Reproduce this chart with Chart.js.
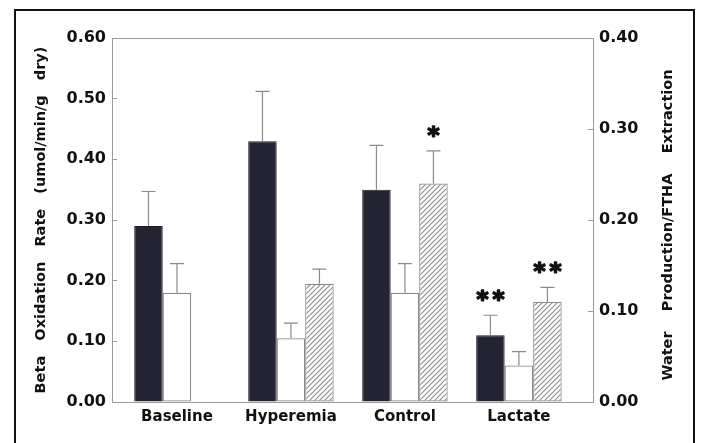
<!DOCTYPE html>
<html><head><meta charset="utf-8">
<script src="https://cdn.jsdelivr.net/npm/chart.js@4"></script>
<style>
html,body{margin:0;padding:0;background:#fff;}
#wrap{position:relative;width:704px;height:443px;overflow:hidden;}
#frame{position:absolute;left:14px;top:9px;width:677px;height:480px;border:2px solid #111;border-bottom:none;pointer-events:none;}
canvas{position:absolute;left:0;top:0;}
</style></head><body>
<div id="wrap"><canvas id="c" width="704" height="443"></canvas><div id="frame"></div></div>
<script>
// ---- data ----
const categories = ['Baseline', 'Hyperemia', 'Control', 'Lactate'];
const betaOxidation = [0.29, 0.43, 0.35, 0.11];
const betaOxidationErr = [0.057, 0.082, 0.073, 0.033];
const secondSeries = [0.18, 0.105, 0.18, 0.06];
const secondSeriesErr = [0.048, 0.025, 0.048, 0.023];
const waterFtha = [null, 0.13, 0.24, 0.11];
const waterFthaErr = [null, 0.016, 0.036, 0.016];
const marksBeta = ['', '', '', '**'];
const marksSecond = ['', '', '', ''];
const marksWater = ['', '', '*', '**'];
const leftTicks = [0, 0.1, 0.2, 0.3, 0.4, 0.5, 0.6];
const rightTicks = [0, 0.1, 0.2, 0.3, 0.4];
const leftTitle = 'Beta   Oxidation   Rate   (umol/min/g   dry)';
const rightTitle = 'Water    Production/FTHA    Extraction';

const errs = [betaOxidationErr, secondSeriesErr, waterFthaErr];
const marks = [marksBeta, marksSecond, marksWater];

function hatch() {
  const s = 5, c = document.createElement('canvas');
  c.width = c.height = s;
  const x = c.getContext('2d');
  x.fillStyle = '#fff'; x.fillRect(0, 0, s, s);
  x.strokeStyle = '#8c8c8c'; x.lineWidth = 1.1;
  x.beginPath();
  x.moveTo(0, s); x.lineTo(s, 0);
  x.moveTo(-1, 1); x.lineTo(1, -1);
  x.moveTo(s - 1, s + 1); x.lineTo(s + 1, s - 1);
  x.stroke();
  return x.createPattern(c, 'repeat');
}

const toXY = arr => arr.map((v, i) => ({ x: i, y: v }));
const TXT = '#111';
const AX = '#9a9a9a';

const extras = {
  id: 'extras',
  afterDatasetsDraw(chart) {
    const ctx = chart.ctx;
    ctx.save();
    chart.data.datasets.forEach((ds, d) => {
      const meta = chart.getDatasetMeta(d);
      const sc = chart.scales[meta.yAxisID];
      meta.data.forEach((el, i) => {
        const v = ds.data[i].y;
        if (v == null) return;
        const e = errs[d][i];
        const yTop = sc.getPixelForValue(v + e);
        ctx.strokeStyle = '#8a8a8a';
        ctx.lineWidth = 1.2;
        ctx.beginPath();
        ctx.moveTo(el.x, el.y);
        ctx.lineTo(el.x, yTop);
        ctx.moveTo(el.x - 7, yTop);
        ctx.lineTo(el.x + 7, yTop);
        ctx.stroke();
        const m = marks[d][i];
        if (m) {
          ctx.fillStyle = TXT;
          ctx.strokeStyle = TXT;
          ctx.lineWidth = 1.6;
          ctx.lineJoin = 'round';
          ctx.font = 'bold 23px "DejaVu Sans"';
          ctx.textAlign = 'center';
          ctx.textBaseline = 'alphabetic';
          try { ctx.letterSpacing = m.length > 1 ? '4px' : '0px'; } catch (err) {}
          const tx = el.x + (m.length > 1 ? 2 : 0);
          ctx.fillText(m, tx, yTop - 8);
          ctx.strokeText(m, tx, yTop - 8);
          try { ctx.letterSpacing = '0px'; } catch (err) {}
        }
      });
    });
    ctx.restore();
  },
  afterDraw(chart) {
    const ctx = chart.ctx, a = chart.chartArea;
    ctx.save();
    ctx.strokeStyle = AX; ctx.lineWidth = 1;
    ctx.beginPath();
    ctx.moveTo(a.left, a.top + 0.5); ctx.lineTo(a.right, a.top + 0.5);
    ctx.stroke();
    const y2 = chart.scales.y2;
    ctx.translate(y2.left + 75, (a.top + a.bottom) / 2 + 5);
    ctx.rotate(-Math.PI / 2);
    ctx.fillStyle = TXT;
    ctx.font = 'bold 14.5px "DejaVu Sans"';
    ctx.textAlign = 'center';
    ctx.textBaseline = 'middle';
    ctx.fillText(rightTitle, 0, 0);
    ctx.restore();
  }
};

new Chart(document.getElementById('c'), {
  type: 'bar',
  data: {
    datasets: [
      { label: 'Beta Oxidation Rate', data: toXY(betaOxidation), yAxisID: 'y',
        backgroundColor: '#242433', borderColor: '#1c1c28', borderWidth: 1 },
      { label: 'Series 2', data: toXY(secondSeries), yAxisID: 'y',
        backgroundColor: '#ffffff', borderColor: '#8a8a8a', borderWidth: 1.2, borderSkipped: false },
      { label: 'Water Production/FTHA Extraction', data: toXY(waterFtha), yAxisID: 'y2',
        backgroundColor: hatch(), borderColor: '#8a8a8a', borderWidth: 1.2, borderSkipped: false }
    ]
  },
  options: {
    responsive: false,
    devicePixelRatio: 1,
    animation: false,
    events: [],
    categoryPercentage: 0.75,
    barPercentage: 1.0,
    layout: { padding: { top: 38, left: 0, right: 0, bottom: 0 } },
    plugins: { legend: { display: false }, tooltip: { enabled: false } },
    scales: {
      x: {
        type: 'linear',
        offset: false,
        min: -0.57, max: 3.65,
        afterBuildTicks: s => { s.ticks = categories.map((_, i) => ({ value: i })); },
        afterFit: s => { s.height = 41; },
        ticks: { callback: v => categories[v] ?? '', color: TXT, padding: 6,
                 font: { family: 'DejaVu Sans', weight: 'bold', size: 15 }, maxRotation: 0, autoSkip: false },
        grid: { display: false, drawTicks: false, offset: false },
        border: { display: true, color: AX, width: 1 }
      },
      y: {
        position: 'left', min: 0, max: 0.6,
        afterBuildTicks: s => { s.ticks = leftTicks.map(v => ({ value: v })); },
        afterFit: s => { s.width = 112; },
        ticks: { callback: v => v.toFixed(2), color: TXT, padding: 11,
                 font: { family: 'DejaVu Sans', weight: 'bold', size: 16 } },
        grid: { drawOnChartArea: false, drawTicks: true, tickLength: -5, color: AX },
        border: { display: true, color: AX, width: 1 },
        title: { display: true, text: leftTitle, color: TXT,
                 font: { family: 'DejaVu Sans', weight: 'bold', size: 14.5 }, padding: { top: 33, bottom: 0 } }
      },
      y2: {
        position: 'right', min: 0, max: 0.4,
        afterBuildTicks: s => { s.ticks = rightTicks.map(v => ({ value: v })); },
        afterFit: s => { s.width = 111; },
        ticks: { callback: v => v.toFixed(2), color: TXT, padding: 11,
                 font: { family: 'DejaVu Sans', weight: 'bold', size: 16 } },
        grid: { drawOnChartArea: false, drawTicks: true, tickLength: -5, color: AX },
        border: { display: true, color: AX, width: 1 }
      }
    }
  },
  plugins: [extras]
});
</script>
</body></html>
